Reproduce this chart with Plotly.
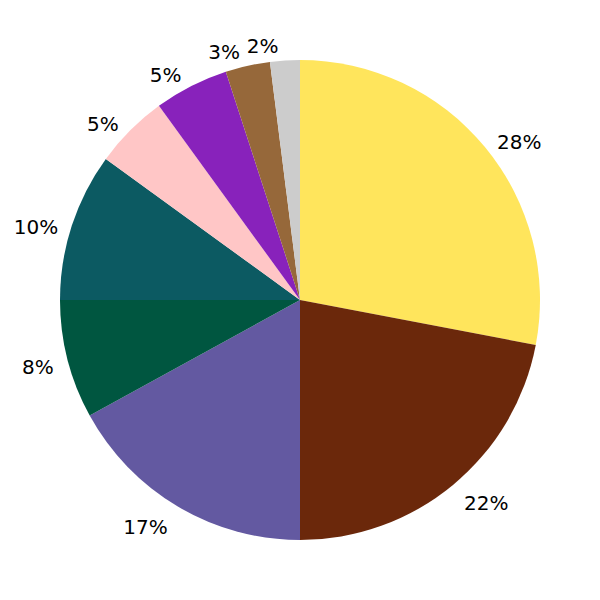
import plotly.graph_objects as go

labels = ["A", "B", "C", "D", "E", "F", "G", "H", "I"]
values = [28, 22, 17, 8, 10, 5, 5, 3, 2]
colors = ["#FFE55C", "#6B280B", "#6359A1", "#005640", "#0C5A62",
          "#FFC6C6", "#8822BB", "#96683A", "#CCCCCC"]

W = 600
# page has an 8px body margin, so compensate to centre the pie at (300, 300)
cx = (300 - 8) / W
cy = 1 - (300 - 8) / W


def dom(r_px, dy_px=0):
    h = r_px / W
    c = cy - dy_px / W
    return dict(x=[cx - h, cx + h], y=[c - h, c + h])


n = len(values)
clear = ["rgba(0,0,0,0)"] * n
common = dict(labels=labels, values=values, sort=False,
              direction="clockwise", rotation=0, showlegend=False)

# visible slices
fig = go.Figure()
fig.add_trace(go.Pie(
    **common,
    marker=dict(colors=colors, line=dict(width=0)),
    textinfo="none", hoverinfo="label+percent",
    domain=dom(240),
))
# transparent rings carrying the outside percentage labels,
# one label per ring so that Plotly never shifts them or adds leader lines
for i in range(n):
    pos = ["outside" if j == i else "none" for j in range(n)]
    fig.add_trace(go.Pie(
        **common,
        marker=dict(colors=clear, line=dict(width=0)),
        texttemplate="%{percent:.0%}",
        textposition=pos,
        textfont=dict(family="DejaVu Sans", size=20, color="black"),
        hoverinfo="skip",
        domain=dom(248, 5),
    ))

fig.update_layout(
    width=600, height=600,
    margin=dict(l=0, r=0, t=0, b=0),
    paper_bgcolor="white",
    plot_bgcolor="white",
)
fig.write_html("out.html")
